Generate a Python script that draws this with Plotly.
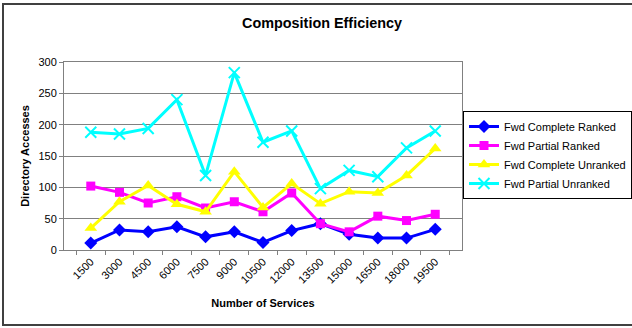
import plotly.graph_objects as go

categories = ["1500", "3000", "4500", "6000", "7500", "9000", "10500", "12000",
              "13500", "15000", "16500", "18000", "19500"]
fwd_complete_ranked = [11, 32, 29, 37, 21, 29, 12, 31, 42, 25, 19, 19, 33]
fwd_partial_ranked = [102, 92, 75, 85, 67, 77, 61, 91, 42, 29, 54, 47, 57]
fwd_complete_unranked = [35, 77, 103, 73, 61, 125, 68, 106, 74, 93, 91, 119, 162]
fwd_partial_unranked = [188, 185, 194, 240, 119, 283, 172, 190, 98, 127, 117, 163, 190]

FONT = "Liberation Sans, Arial, sans-serif"

fig = go.Figure()
series = [
    ("Fwd Complete Ranked", fwd_complete_ranked, "#0000FF", "diamond", 10, None),
    ("Fwd Partial Ranked", fwd_partial_ranked, "#FF00FF", "square", 9, None),
    ("Fwd Complete Unranked", fwd_complete_unranked, "#FFFF00", "triangle-up", 11, None),
    ("Fwd Partial Unranked", fwd_partial_unranked, "#00FFFF", "x-thin-open", 11, dict(width=2, color="#00FFFF")),
]
for name, vals, color, sym, size, mline in series:
    marker = dict(symbol=sym, size=size, color=color)
    if mline:
        marker["line"] = mline
    fig.add_trace(go.Scatter(
        x=categories, y=vals, name=name, mode="lines+markers",
        line=dict(color=color, width=3), marker=marker,
    ))

fig.update_layout(
    width=632, height=328,
    margin=dict(l=64, r=170, t=62, b=78, autoexpand=False),
    paper_bgcolor="white", plot_bgcolor="white",
    font=dict(family=FONT, size=11, color="black"),
    title=dict(text="<b>Composition Efficiency</b>", x=322/632, xanchor="center",
               y=1-23/328, yanchor="middle", font=dict(size=14.4, family=FONT)),
    showlegend=True,
    legend=dict(x=(463-64)/398, xanchor="left", y=(250-111)/188, yanchor="top",
                bordercolor="black", borderwidth=1, bgcolor="white",
                font=dict(size=11, family=FONT), tracegroupgap=0,
                itemwidth=30),
)
fig.update_xaxes(
    type="category", tickangle=-45, tickson="boundaries",
    ticks="outside", ticklen=4, tickcolor="#808080",
    showline=True, linecolor="#808080", mirror=True, showgrid=False,
    title=dict(text="<b>Number of Services</b>", font=dict(size=11), standoff=14),
    tickfont=dict(size=11),
)
fig.update_yaxes(
    range=[0, 300], dtick=50, ticks="outside", ticklen=4, tickcolor="#808080",
    showline=True, linecolor="#808080", mirror=True,
    showgrid=True, gridcolor="#808080", gridwidth=1, zeroline=False,
    title=dict(text="<b>Directory Accesses</b>", font=dict(size=11), standoff=6),
    tickfont=dict(size=11),
)
# outer chart frame
fig.add_shape(type="rect", xref="paper", yref="paper",
              x0=(3-64)/398, x1=(640-64)/398, y0=(250-325)/188, y1=(250-4)/188,
              line=dict(color="#404040", width=2), fillcolor="rgba(0,0,0,0)", layer="below")

fig.write_html("out.html")
